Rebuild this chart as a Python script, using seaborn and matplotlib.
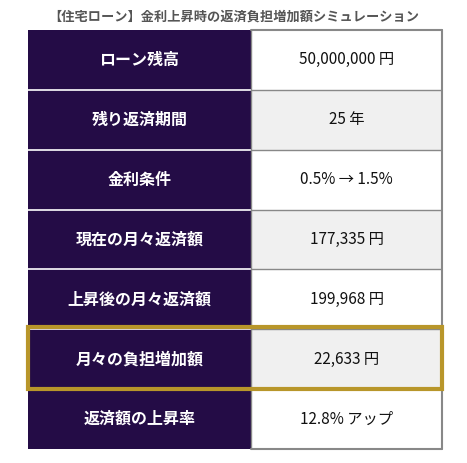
import numpy as np
import matplotlib.pyplot as plt
import seaborn as sns
from matplotlib.colors import ListedColormap
from matplotlib.patches import Rectangle

sns.set_theme(style="white")
plt.rcParams['font.family'] = ['Noto Sans CJK JP', 'DejaVu Sans']

title = "【住宅ローン】金利上昇時の返済負担増加額シミュレーション"
labels = ["ローン残高", "残り返済期間", "金利条件", "現在の月々返済額",
          "上昇後の月々返済額", "月々の負担増加額", "返済額の上昇率"]
values = ["50,000,000 円", "25 年", "0.5% → 1.5%", "177,335 円",
          "199,968 円", "22,633 円", "12.8% アップ"]
highlight_row = 5

W, H = 467, 463
fig = plt.figure(figsize=(W / 100, H / 100), dpi=100)
ax = fig.add_axes([28 / W, 14 / H, 414 / W, 419 / H])

n = len(labels)
xedges = np.array([0, 223, 414])
yedges = np.arange(n + 1)
# 0 = dark label cell, 1 = white, 2 = light grey
codes = np.array([[0, 1 if i % 2 == 0 else 2] for i in range(n)])
cmap = ListedColormap(["#240c46", "#ffffff", "#f0f0f0"])
ax.pcolormesh(xedges, yedges, codes, cmap=cmap, vmin=-0.5, vmax=2.5)
ax.set_xlim(0, 414)
ax.set_ylim(n, 0)
ax.axis("off")

# grid lines
for i in range(1, n):
    ax.plot([0, 223], [i, i], color="white", lw=1.2)
    ax.plot([223, 414], [i, i], color="#888888", lw=1)
ax.plot([223, 223], [0, n], color="#888888", lw=1)
ax.plot([414, 414], [0, n], color="#888888", lw=1.5, clip_on=False)
ax.plot([223, 414], [0, 0], color="#888888", lw=1.5, clip_on=False)
ax.plot([223, 414], [n, n], color="#888888", lw=1.5, clip_on=False)

for i, (lab, val) in enumerate(zip(labels, values)):
    ax.text(111.5, i + 0.5, lab, color="white", fontsize=11.5, fontweight="bold",
            ha="center", va="center")
    ax.text(318.5, i + 0.5, val, color="#111111", fontsize=11,
            ha="center", va="center")

ax.add_patch(Rectangle((0, highlight_row - 0.03), 414, 1.03, fill=False,
                       edgecolor="#b8962a", lw=3, clip_on=False, zorder=5))

fig.text(0.5, 1 - 17 / H, title, ha="center", va="center", fontsize=9.5,
         fontweight="bold", color="#555555")

fig.savefig("out.png", dpi=100)
